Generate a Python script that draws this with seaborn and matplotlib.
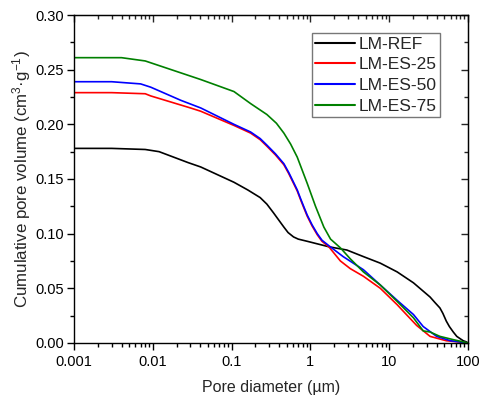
import numpy as np
import pandas as pd
import matplotlib
matplotlib.use("Agg")
import matplotlib.pyplot as plt
from matplotlib.ticker import (FixedLocator, FixedFormatter, LogLocator, MultipleLocator,
                               NullFormatter, FormatStrFormatter)
import seaborn as sns

# Cumulative intrusion curves: pore diameter (um) vs cumulative pore volume (cm3/g)
ref_d = [0.001, 0.003, 0.008, 0.012, 0.028, 0.0405, 0.107, 0.16, 0.23, 0.28, 0.34, 0.4,
         0.46, 0.52, 0.61, 0.7, 0.91, 1.71, 2.9, 4.7, 7.7, 12.6, 20.3, 33, 38, 44, 48, 53,
         58, 65, 72, 79, 87, 95, 100]
ref_v = [0.178, 0.178, 0.177, 0.175, 0.165, 0.161, 0.147, 0.140, 0.133, 0.127, 0.119, 0.112,
         0.106, 0.101, 0.097, 0.095, 0.093, 0.088, 0.085, 0.079, 0.073, 0.065, 0.055, 0.042,
         0.037, 0.032, 0.027, 0.020, 0.015, 0.010, 0.006, 0.004, 0.002, 0.001, 0.0]

es25_d = [0.001, 0.003, 0.008, 0.0094, 0.03, 0.0405, 0.107, 0.174, 0.23, 0.28, 0.36, 0.46,
          0.53, 0.61, 0.68, 0.75, 0.82, 0.91, 1.05, 1.22, 1.4, 1.71, 2.4, 3.2, 4.7, 7.7,
          12.6, 16.5, 22.3, 33, 53, 75, 100]
es25_v = [0.229, 0.229, 0.228, 0.226, 0.215, 0.212, 0.199, 0.192, 0.186, 0.180, 0.172, 0.163,
          0.155, 0.146, 0.139, 0.131, 0.124, 0.116, 0.107, 0.099, 0.093, 0.088, 0.075, 0.068,
          0.061, 0.050, 0.035, 0.026, 0.016, 0.006, 0.002, 0.001, 0.0]

es50_d = [0.001, 0.003, 0.007, 0.0094, 0.0226, 0.0405, 0.107, 0.174, 0.23, 0.28, 0.36, 0.46,
          0.53, 0.61, 0.68, 0.75, 0.82, 0.91, 1.05, 1.22, 1.4, 1.71, 2.6, 4.7, 7.7, 12.6,
          20.3, 27, 40, 60, 100]
es50_v = [0.239, 0.239, 0.237, 0.234, 0.222, 0.215, 0.200, 0.193, 0.187, 0.181, 0.173, 0.164,
          0.156, 0.147, 0.140, 0.132, 0.125, 0.117, 0.108, 0.100, 0.094, 0.089, 0.079, 0.067,
          0.053, 0.039, 0.026, 0.015, 0.006, 0.002, 0.0]

es75_d = [0.001, 0.004, 0.008, 0.0405, 0.107, 0.174, 0.28, 0.37, 0.46, 0.56, 0.68, 0.91,
          1.16, 1.48, 1.8, 2.4, 3.2, 4.7, 7.7, 12.6, 20.3, 27, 33, 44, 65, 100]
es75_v = [0.261, 0.261, 0.258, 0.241, 0.230, 0.219, 0.209, 0.201, 0.192, 0.182, 0.170, 0.146,
          0.125, 0.106, 0.095, 0.087, 0.077, 0.065, 0.053, 0.038, 0.023, 0.011, 0.010, 0.006,
          0.003, 0.0]

labels = ["LM-REF", "LM-ES-25", "LM-ES-50", "LM-ES-75"]
colors = ["#000000", "#ff0000", "#0000ff", "#008000"]

x_ticks = [0.001, 0.01, 0.1, 1, 10, 100]
x_tick_labels = ["0.001", "0.01", "0.1", "1", "10", "100"]

frames = []
for name, d, v in zip(labels, [ref_d, es25_d, es50_d, es75_d], [ref_v, es25_v, es50_v, es75_v]):
    frames.append(pd.DataFrame({"diameter": d, "volume": v, "sample": name}))
df = pd.concat(frames, ignore_index=True)

sns.set_style("ticks")
plt.rcParams["font.family"] = ["Liberation Sans", "DejaVu Sans"]
plt.rcParams["mathtext.fontset"] = "custom"
plt.rcParams["mathtext.rm"] = "Liberation Sans"
plt.rcParams["mathtext.it"] = "Liberation Sans:italic"

fig = plt.figure(figsize=(4.81, 3.96), dpi=100)
ax = fig.add_axes([0.154, 0.134, 0.819, 0.828])

sns.lineplot(data=df, x="diameter", y="volume", hue="sample", hue_order=labels,
             palette=colors, linewidth=1.2, sort=True, estimator=None, ax=ax)

ax.set_xscale("log")
ax.set_xlim(0.001, 100)
ax.set_ylim(0, 0.30)

ax.xaxis.set_major_locator(FixedLocator(x_ticks))
ax.xaxis.set_major_formatter(FixedFormatter(x_tick_labels))
ax.xaxis.set_minor_locator(LogLocator(base=10, subs=np.arange(2, 10), numticks=20))
ax.xaxis.set_minor_formatter(NullFormatter())
ax.yaxis.set_major_locator(MultipleLocator(0.05))
ax.yaxis.set_minor_locator(MultipleLocator(0.025))
ax.yaxis.set_major_formatter(FormatStrFormatter("%.2f"))

for s in ax.spines.values():
    s.set_linewidth(1.0)
    s.set_color("black")

ax.tick_params(which="both", direction="out", top=False, right=False, colors="black",
               labelsize=10.5, width=1.0)
ax.tick_params(which="major", length=5)
ax.tick_params(which="minor", length=3)
ax.tick_params(axis="y", which="major", pad=2)

# mirrored inward ticks on top and right
axt = ax.secondary_xaxis("top")
axt.set_xticks(x_ticks)
axt.xaxis.set_minor_locator(LogLocator(base=10, subs=np.arange(2, 10), numticks=20))
axt.tick_params(which="both", direction="in", labeltop=False, width=1.0)
axt.tick_params(which="major", length=5)
axt.tick_params(which="minor", length=3)
axt.xaxis.set_major_formatter(NullFormatter())
axt.xaxis.set_minor_formatter(NullFormatter())
axr = ax.secondary_yaxis("right")
axr.yaxis.set_major_locator(MultipleLocator(0.05))
axr.yaxis.set_minor_locator(MultipleLocator(0.025))
axr.tick_params(which="both", direction="in", labelright=False, width=1.0)
axr.tick_params(which="major", length=5)
axr.tick_params(which="minor", length=3)

ax.set_xlabel("Pore diameter (\u00b5m)", fontsize=11.5, labelpad=8)
ax.set_ylabel("Cumulative pore volume (cm$^{3}$\u00b7g$^{-1}$)", fontsize=12.2, labelpad=2)

leg = ax.legend(loc="upper right", bbox_to_anchor=(0.929, 0.945), fontsize=12.5,
                frameon=True, fancybox=False, handlelength=2.3, handletextpad=0.2,
                borderpad=0.2, labelspacing=0.32, borderaxespad=0.0)
leg.get_frame().set_edgecolor("#555555")
leg.get_frame().set_linewidth(1.0)
leg.set_title(None)
for line in leg.get_lines():
    line.set_linewidth(1.5)

fig.savefig("out.png", dpi=100)
